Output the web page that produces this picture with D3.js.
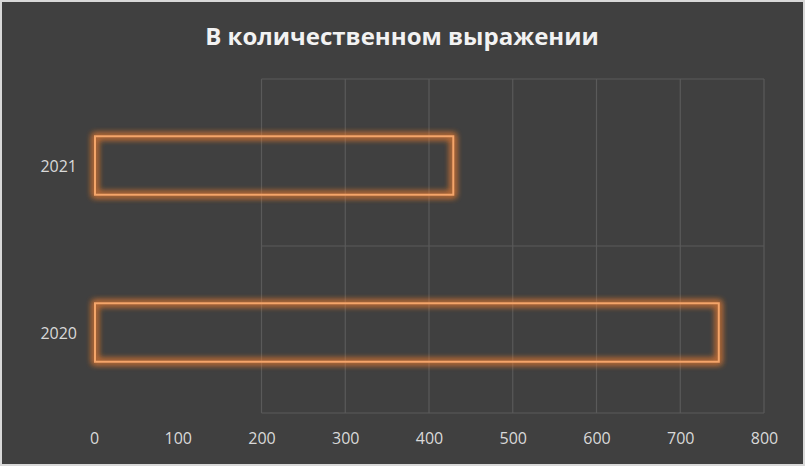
<!DOCTYPE html>
<html>
<head>
<meta charset="utf-8">
<script src="https://cdn.jsdelivr.net/npm/d3@7"></script>
<style>
  html, body { margin: 0; padding: 0; background: #404040; }
  svg { display: block; }
</style>
</head>
<body>
<svg width="805" height="466"></svg>
<script>
const categories = ["2020", "2021"];
const values = [746, 429];
const xTicks = [0, 100, 200, 300, 400, 500, 600, 700, 800];
const gridTicks = [200, 300, 400, 500, 600, 700, 800];
const title = "В количественном выражении";

const svg = d3.select("svg");
const W = 805, H = 466;
const plot = { left: 94, right: 764, top: 79, bottom: 413 };

// chart background and outer frame
svg.append("rect")
  .attr("x", 1).attr("y", 1)
  .attr("width", W - 2).attr("height", H - 2)
  .attr("fill", "#404040")
  .attr("stroke", "#d9d9d9")
  .attr("stroke-width", 2);

// glow for the bar outlines
const defs = svg.append("defs");
const glow = defs.append("filter")
  .attr("id", "glow")
  .attr("x", "-10%").attr("y", "-40%")
  .attr("width", "120%").attr("height", "180%");
glow.append("feGaussianBlur")
  .attr("in", "SourceGraphic")
  .attr("stdDeviation", 3)
  .attr("result", "blur");
const merge = glow.append("feMerge");
merge.append("feMergeNode").attr("in", "blur");
merge.append("feMergeNode").attr("in", "blur");

const x = d3.scaleLinear()
  .domain([0, 800])
  .range([plot.left, plot.right]);

const y = d3.scaleBand()
  .domain(categories)
  .range([plot.bottom + 3, plot.top + 3])
  .paddingInner(0.65)
  .paddingOuter(0.325);

// gridlines (only drawn from 200 on, as in the original)
const grid = svg.append("g").attr("stroke", "#5a5a5a").attr("stroke-width", 1.2);
grid.selectAll("line.v")
  .data(gridTicks)
  .join("line")
  .attr("class", "v")
  .attr("x1", d => x(d)).attr("x2", d => x(d))
  .attr("y1", plot.top).attr("y2", plot.bottom);
grid.selectAll("line.h")
  .data([plot.top, (plot.top + plot.bottom) / 2, plot.bottom])
  .join("line")
  .attr("class", "h")
  .attr("x1", x(200)).attr("x2", x(800))
  .attr("y1", d => d).attr("y2", d => d);

// bars: outlined, no fill, with orange glow
const bars = svg.append("g");
bars.selectAll("rect.glow")
  .data(categories)
  .join("rect")
  .attr("class", "glow")
  .attr("x", x(0) + 1)
  .attr("y", d => y(d))
  .attr("width", (d, i) => x(values[i]) - x(0) - 1)
  .attr("height", y.bandwidth())
  .attr("fill", "none")
  .attr("stroke", "#ed7d31")
  .attr("stroke-width", 5)
  .attr("opacity", 0.7)
  .attr("filter", "url(#glow)");
bars.selectAll("rect.bar")
  .data(categories)
  .join("rect")
  .attr("class", "bar")
  .attr("x", x(0) + 1)
  .attr("y", d => y(d))
  .attr("width", (d, i) => x(values[i]) - x(0) - 1)
  .attr("height", y.bandwidth())
  .attr("fill", "none")
  .attr("stroke", "#f4a56a")
  .attr("stroke-width", 2);

// x axis labels
const xAxis = svg.append("g")
  .attr("transform", `translate(0,${plot.bottom})`)
  .call(d3.axisBottom(x).tickValues(xTicks).tickSize(0).tickPadding(20));
xAxis.select(".domain").remove();
xAxis.selectAll("text")
  .attr("fill", "#d9d9d9")
  .attr("font-family", "Open Sans, sans-serif")
  .attr("font-size", 16);

// y axis labels
const yAxis = svg.append("g")
  .attr("transform", `translate(${plot.left},0)`)
  .call(d3.axisLeft(y).tickSize(0).tickPadding(17));
yAxis.select(".domain").remove();
yAxis.selectAll("text")
  .attr("fill", "#d9d9d9")
  .attr("font-family", "Open Sans, sans-serif")
  .attr("font-size", 16)
  .attr("dy", "0.4em");

// title
svg.append("text")
  .attr("x", 402)
  .attr("y", 45)
  .attr("text-anchor", "middle")
  .attr("fill", "#f2f2f2")
  .attr("font-family", "Open Sans, sans-serif")
  .attr("font-weight", "bold")
  .attr("font-size", 24)
  .text(title);
</script>
</body>
</html>
